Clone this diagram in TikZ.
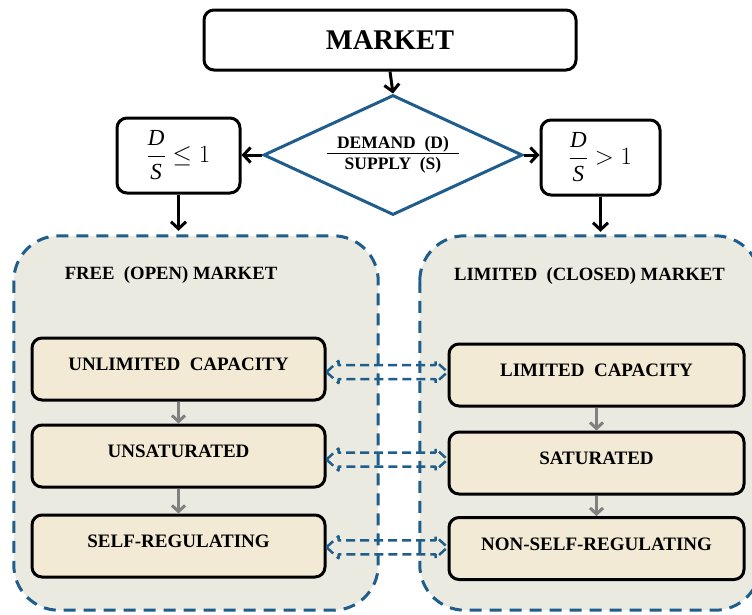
\documentclass[tikz,border=0pt]{standalone}
\usepackage{fontspec}
\setmainfont{Liberation Serif}
\usetikzlibrary{shapes.geometric,arrows.meta,calc}
\definecolor{dblue}{RGB}{31,93,140}
\definecolor{contfill}{RGB}{234,234,224}
\definecolor{boxfill}{RGB}{242,234,212}
\definecolor{arrgray}{RGB}{128,128,128}
\begin{document}
\begin{tikzpicture}[x=1pt,y=-1pt,
  blackbox/.style={draw=black, line width=3pt, rounded corners=10pt, fill=white, inner sep=0pt},
  innerbox/.style={draw=black, line width=3pt, rounded corners=10pt, fill=boxfill,
    minimum height=62pt, inner sep=0pt, text height=13pt, text depth=10pt,
    font=\fontsize{19}{21}\selectfont\bfseries},
  container/.style={fill=contfill, rounded corners=45pt, minimum height=374pt, inner sep=0pt},
  contborder/.style={draw=dblue, line width=3pt, dash pattern=on 12pt off 8pt, rounded corners=45pt},
  title/.style={font=\fontsize{18.7}{20}\selectfont\bfseries, inner sep=0pt},
  blackarrow/.style={draw=black, line width=3pt, -{Straight Barb[length=7pt,width=15pt]}},
  grayarrow/.style={draw=arrgray, line width=3pt, -{Straight Barb[length=6pt,width=13pt]}},
  dblarrow/.style={draw=dblue, line width=2.5pt, dash pattern=on 9pt off 5pt, line join=round},
  decision/.style={diamond, draw=dblue, line width=3pt, fill=white, minimum width=259pt,
    minimum height=120pt, shape aspect=2.16, inner sep=0pt}
]
\useasboundingbox (0,0) rectangle (752,614);

% top
\node[blackbox, minimum width=372pt, minimum height=60pt,
  font=\fontsize{28.5}{30}\selectfont\bfseries] (market) at (390,40) {MARKET};
\node[decision] (dm) at (393,155) {\fontsize{17.5}{19}\selectfont\bfseries
  \begin{tabular}{@{\hspace{10pt}}c@{\hspace{10pt}}}DEMAND\ \ (D)\\[-1pt]\hline\rule{0pt}{16pt}SUPPLY\ \ (S)\end{tabular}};
\node[blackbox, minimum width=123pt, minimum height=75pt] (ls) at (178.5,155.5)
  {\fontsize{23}{26}\selectfont$\displaystyle\frac{\textit{D}}{\textit{S}}\le 1$};
\node[blackbox, minimum width=119pt, minimum height=75pt] (rs) at (600.5,157.5)
  {\fontsize{23}{26}\selectfont$\displaystyle\frac{\textit{D}}{\textit{S}}> 1$};

\draw[blackarrow] (market.south) -- (dm.north);
\draw[blackarrow] (dm.west) -- (ls.east |- dm.west);
\draw[blackarrow] (dm.east) -- (rs.west |- dm.east);

% containers
\node[container, minimum width=364pt] (lc) at (196,423) {};
\node[container, minimum width=340pt] (rc) at (590,423) {};

\draw[blackarrow, shorten >=5pt] (ls.south) -- (ls.south |- lc.north);
\draw[blackarrow, shorten >=4pt] (rs.south) -- (rs.south |- rc.north);

\node[title] (lt) at (171,275) {FREE\ \ (OPEN) MARKET};
\node[title] (rt) at (589.5,276) {LIMITED\ \ (CLOSED)\ MARKET};

% inner boxes
\node[innerbox, minimum width=293pt] (l1) at (178.5,369) {UNLIMITED\ \ CAPACITY};
\node[innerbox, minimum width=293pt] (l2) at (178.5,456) {UNSATURATED};
\node[innerbox, minimum width=293pt] (l3) at (178.5,546) {SELF-REGULATING};
\node[innerbox, minimum width=295pt] (r1) at (596.5,375) {LIMITED\ \ CAPACITY};
\node[innerbox, minimum width=295pt] (r2) at (596.5,463) {SATURATED};
\node[innerbox, minimum width=295pt] (r3) at (596.5,548.5) {NON-SELF-REGULATING};

\draw[grayarrow] (l1.south) -- (l2.north);
\draw[grayarrow] (l2.south) -- (l3.north);
\draw[grayarrow] (r1.south) -- (r2.north);
\draw[grayarrow] (r2.south) -- (r3.north);

% dashed double arrows
\foreach \a/\b in {l1/r1, l2/r2, l3/r3}{
  \coordinate (m) at ($(\a.east)!0.5!(\b.west)$);
  \coordinate (A) at (\a.east |- m);
  \coordinate (B) at (\b.west |- m);
  \draw[dblarrow] (A) -- ++(12,-11) -- ++(0,4) -- ($(B)+(-12,-7)$) -- ++(0,-4) -- (B)
    -- ++(-12,11) -- ++(0,-4) -- ($(A)+(12,7)$) -- ++(0,4) -- cycle;
}

% container borders
\draw[contborder] (lc.north west) rectangle (lc.south east);
\draw[contborder] (rc.north west) rectangle (rc.south east);
\end{tikzpicture}
\end{document}
